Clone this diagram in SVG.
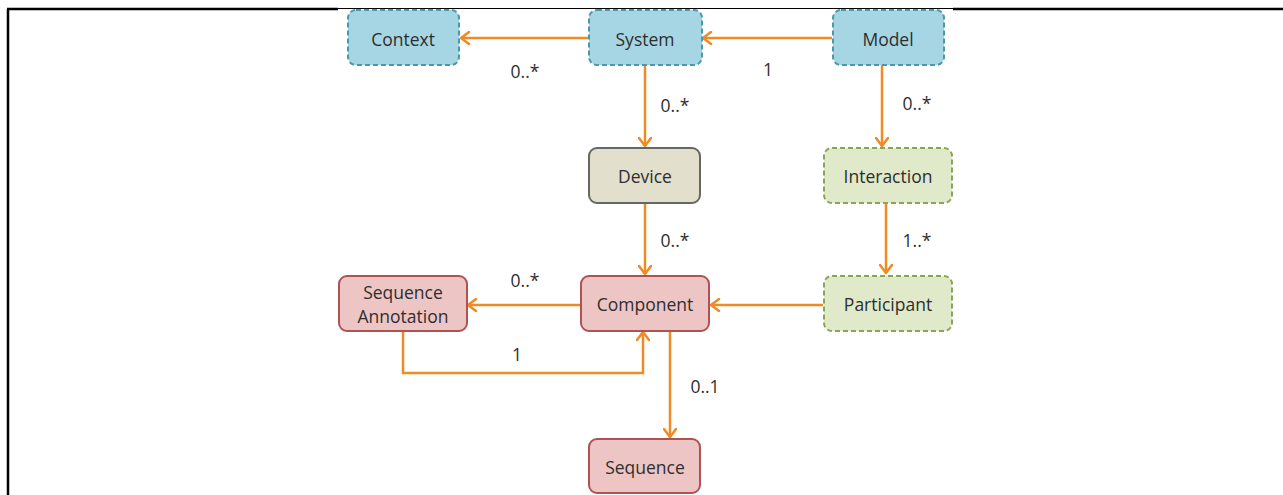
<svg xmlns="http://www.w3.org/2000/svg" width="1283" height="495" viewBox="0 0 1283 495">
  <defs>
    <marker id="arrow" markerWidth="14" markerHeight="14" viewBox="-10 -7 12 14" refX="0" refY="0" orient="auto" markerUnits="userSpaceOnUse">
      <path d="M -8 -6 L 0 0 L -8 6" fill="none" stroke="#f08a24" stroke-width="2.5" stroke-linecap="round" stroke-linejoin="round"/>
    </marker>
    <style>
      .frame { stroke: #000; fill: none; }
      .node text { font-family: "Open Sans", "Liberation Sans", sans-serif; font-size: 17.5px; fill: #2e2e2e; text-anchor: middle; }
      .blue rect { fill: #a6d6e4; stroke: #4b97ad; stroke-width: 2; stroke-dasharray: 5 3; }
      .tan rect { fill: #e2dfcc; stroke: #666; stroke-width: 2; }
      .green rect { fill: #e0e9ca; stroke: #8aa458; stroke-width: 2; stroke-dasharray: 5 3; }
      .red rect { fill: #eec5c5; stroke: #ae5252; stroke-width: 2; }
      .edge { fill: none; stroke: #f08a24; stroke-width: 2.5; marker-end: url(#arrow); }
      .lbl { font-family: "Open Sans", "Liberation Sans", sans-serif; font-size: 17.5px; fill: #2e2e2e; text-anchor: middle; }
    </style>
  </defs>

  <!-- page frame -->
  <g id="frame">
    <line class="frame" x1="8" y1="9" x2="8" y2="495" stroke-width="2.5"/>
    <line class="frame" x1="7" y1="9" x2="338" y2="9" stroke-width="2.5"/>
    <line class="frame" x1="338" y1="8.5" x2="953" y2="8.5" stroke-width="1"/>
    <line class="frame" x1="953" y1="9" x2="1283" y2="9" stroke-width="2.5"/>
  </g>

  <!-- connectors -->
  <g id="connectors">
    <path class="edge" d="M 588 38 L 461 38"/>
    <path class="edge" d="M 832 38 L 703 38"/>
    <path class="edge" d="M 645 65 L 645 146"/>
    <path class="edge" d="M 882 65 L 882 146"/>
    <path class="edge" d="M 645 203 L 645 274"/>
    <path class="edge" d="M 886 204 L 886 273"/>
    <path class="edge" d="M 823 305 L 711 305"/>
    <path class="edge" d="M 580 305 L 468 305"/>
    <path class="edge" d="M 403 331 L 403 373 L 643 373 L 643 332"/>
    <path class="edge" d="M 670 331 L 670 437"/>
    <text class="lbl" x="525" y="78">0..*</text>
    <text class="lbl" x="768" y="76">1</text>
    <text class="lbl" x="675" y="112">0..*</text>
    <text class="lbl" x="917" y="110">0..*</text>
    <text class="lbl" x="675" y="247">0..*</text>
    <text class="lbl" x="917" y="247">1..*</text>
    <text class="lbl" x="525" y="287">0..*</text>
    <text class="lbl" x="517" y="361">1</text>
    <text class="lbl" x="705" y="393">0..1</text>
  </g>

  <g id="context" class="node blue">
    <rect x="348" y="10" width="111" height="55" rx="8"/>
    <text x="403" y="46">Context</text>
  </g>
  <g id="system" class="node blue">
    <rect x="589" y="10" width="113" height="55" rx="8"/>
    <text x="645" y="46">System</text>
  </g>
  <g id="model" class="node blue">
    <rect x="833" y="10" width="111" height="55" rx="8"/>
    <text x="888" y="46">Model</text>
  </g>
  <g id="device" class="node tan">
    <rect x="589" y="148" width="111" height="55" rx="8"/>
    <text x="645" y="183">Device</text>
  </g>
  <g id="interaction" class="node green">
    <rect x="824" y="148" width="128" height="55" rx="8"/>
    <text x="888" y="183">Interaction</text>
  </g>
  <g id="sequence-annotation" class="node red">
    <rect x="339" y="276" width="128" height="55" rx="8"/>
    <text x="403" y="299">Sequence</text>
    <text x="403" y="323">Annotation</text>
  </g>
  <g id="component" class="node red">
    <rect x="581" y="276" width="128" height="55" rx="8"/>
    <text x="645" y="311">Component</text>
  </g>
  <g id="participant" class="node green">
    <rect x="824" y="276" width="128" height="55" rx="8"/>
    <text x="888" y="311">Participant</text>
  </g>
  <g id="sequence" class="node red">
    <rect x="589" y="439" width="111" height="54" rx="8"/>
    <text x="645" y="474">Sequence</text>
  </g>
</svg>
